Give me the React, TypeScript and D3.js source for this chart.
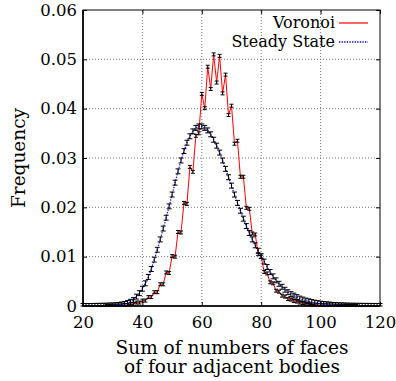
import {useEffect, useRef} from 'react';
import * as d3 from 'd3';

// x = sum of numbers of faces of four adjacent bodies
const voronoiStart = 28;
const voronoiFreq = [
  0, 0, 0.00005, 0.00005, 0.0001, 0.0001, 0.0002, 0.0002, 0.0004, 0.0004,
  0.0007, 0.0007, 0.0011, 0.0011, 0.0018, 0.0018, 0.0028, 0.0028, 0.0044, 0.0044,
  0.0068, 0.0067, 0.0101, 0.01, 0.015, 0.0149, 0.0209, 0.0207, 0.0282, 0.0272,
  0.0345, 0.035, 0.043, 0.0401, 0.0485, 0.044, 0.051, 0.0453, 0.0507, 0.0431,
  0.0469, 0.0387, 0.0406, 0.0329, 0.0335, 0.0262, 0.0262, 0.0199, 0.0197, 0.0147,
  0.0145, 0.0105, 0.01, 0.0069, 0.0066, 0.0048, 0.0046, 0.0031, 0.0029, 0.0021,
  0.0019, 0.0014, 0.0013, 0.001, 0.0009, 0.0007, 0.0006, 0.0005, 0.0004, 0.0003,
  0.0003, 0.0002, 0.0002, 0.00015, 0.00015, 0.0001, 0.0001, 0.00005, 0.00005, 0.00003,
  0.00003, 0.00002, 0.00002, 0, 0,
];
const voronoiErr = 0.0003;

const steadyStart = 20;
const steadyFreq = [
  0, 0, 0, 0, 0.00002, 0.00003, 0.00004, 0.00005, 0.00007, 0.0001,
  0.00012, 0.00016, 0.00022, 0.0003, 0.00042, 0.0006, 0.00085, 0.0012, 0.0019, 0.0026,
  0.0035, 0.0046, 0.0059, 0.0075, 0.0094, 0.0114, 0.0135, 0.0157, 0.0179, 0.0202,
  0.0226, 0.025, 0.0273, 0.0295, 0.0314, 0.0331, 0.0344, 0.0354, 0.0361, 0.0364,
  0.0364, 0.0361, 0.0356, 0.0348, 0.0337, 0.0325, 0.0311, 0.0295, 0.0278, 0.0261,
  0.0244, 0.0226, 0.0209, 0.0193, 0.0177, 0.0162, 0.0148, 0.0135, 0.0123, 0.0112,
  0.0101, 0.009, 0.0079, 0.0069, 0.006, 0.0052, 0.0045, 0.0039, 0.0033, 0.0028,
  0.0024, 0.0021, 0.0018, 0.0015, 0.0013, 0.0011, 0.00095, 0.0008, 0.00068, 0.00057,
  0.00048, 0.0004, 0.00034, 0.00028, 0.00023, 0.00019, 0.00016, 0.00013, 0.00011, 0.00009,
  0.00007, 0.00006, 0.00005, 0.00004, 0.00003, 0.00003, 0.00002, 0.00002, 0.00001, 0.00001,
  0.00001,
];
const steadyErr = 0.0005;

const xTicks = [20, 40, 60, 80, 100, 120];
const yTicks = [0, 0.01, 0.02, 0.03, 0.04, 0.05, 0.06];
const legendLabels = ['Voronoi', 'Steady State'];

const W = 396;
const H = 381;
const margin = {left: 83, right: 16, top: 10, bottom: 75};
const font = 'DejaVu Serif, Liberation Serif, serif';

const App = () => {
  const ref = useRef(null);

  useEffect(() => {
    const svg = d3.select(ref.current);
    svg.selectAll('*').remove();

    const x = d3.scaleLinear().domain([20, 120]).range([margin.left, W - margin.right]);
    const y = d3.scaleLinear().domain([0, 0.06]).range([H - margin.bottom, margin.top]);
    const [x0, x1] = x.range();
    const [y0, y1] = y.range();

    const voronoi = voronoiFreq.map((v, i) => ({x: voronoiStart + i, y: v}));
    const steady = steadyFreq.map((v, i) => ({x: steadyStart + i, y: v}));

    // grid
    const grid = svg.append('g');
    grid
      .selectAll('line.v')
      .data(xTicks.slice(1, -1))
      .enter()
      .append('line')
      .attr('x1', (d) => x(d))
      .attr('x2', (d) => x(d))
      .attr('y1', y0)
      .attr('y2', y1)
      .attr('stroke', '#777')
      .attr('stroke-dasharray', '1,2');
    grid
      .selectAll('line.h')
      .data(yTicks.slice(1, -1))
      .enter()
      .append('line')
      .attr('x1', x0)
      .attr('x2', x1)
      .attr('y1', (d) => y(d))
      .attr('y2', (d) => y(d))
      .attr('stroke', '#777')
      .attr('stroke-dasharray', '1,2');

    // axes (ticks inward, like gnuplot)
    const yFmt = (d) => (d === 0 ? '0' : d3.format('.2f')(d));
    const styleAxis = (g) => {
      g.attr('font-family', null).attr('font-size', null);
      g.select('.domain').remove();
      g.selectAll('line').attr('stroke', '#000');
      g.selectAll('text').style('font-family', font).style('font-size', '16.5px').attr('fill', '#000');
    };
    svg
      .append('g')
      .attr('transform', `translate(0,${y0})`)
      .call(d3.axisBottom(x).tickValues(xTicks).tickSize(-4).tickPadding(10))
      .call(styleAxis);
    svg
      .append('g')
      .attr('transform', `translate(${x0},0)`)
      .call(d3.axisLeft(y).tickValues(yTicks).tickFormat(yFmt).tickSize(-4).tickPadding(6))
      .call(styleAxis);
    svg
      .append('g')
      .attr('transform', `translate(0,${y1})`)
      .call(d3.axisTop(x).tickValues(xTicks).tickFormat(() => '').tickSize(-4))
      .call(styleAxis);
    svg
      .append('g')
      .attr('transform', `translate(${x1},0)`)
      .call(d3.axisRight(y).tickValues(yTicks).tickFormat(() => '').tickSize(-4))
      .call(styleAxis);

    const line = d3
      .line()
      .x((d) => x(d.x))
      .y((d) => y(d.y));

    const drawErrors = (data, err, cap) => {
      const g = svg.append('g').attr('stroke', '#000').attr('stroke-width', 1);
      data.forEach((d) => {
        const lo = y(Math.max(0, d.y - err));
        const hi = y(d.y + err);
        const cx = x(d.x);
        g.append('line').attr('x1', cx).attr('x2', cx).attr('y1', lo).attr('y2', hi);
        g.append('line').attr('x1', cx - cap).attr('x2', cx + cap).attr('y1', lo).attr('y2', lo);
        g.append('line').attr('x1', cx - cap).attr('x2', cx + cap).attr('y1', hi).attr('y2', hi);
      });
    };

    // Voronoi
    svg
      .append('path')
      .datum(voronoi)
      .attr('fill', 'none')
      .attr('stroke', '#ff0000')
      .attr('stroke-width', 1)
      .attr('d', line);
    drawErrors(voronoi, voronoiErr, 2);

    // Steady state
    svg
      .append('path')
      .datum(steady)
      .attr('fill', 'none')
      .attr('stroke', '#0000ff')
      .attr('stroke-width', 1.2)
      .attr('stroke-dasharray', '1.3,1.3')
      .attr('d', line);
    drawErrors(steady, steadyErr, 2.5);

    // frame
    svg
      .append('rect')
      .attr('x', x0)
      .attr('y', y1)
      .attr('width', x1 - x0)
      .attr('height', y0 - y1)
      .attr('fill', 'none')
      .attr('stroke', '#000')
      .attr('stroke-width', 1);
    svg
      .append('path')
      .attr('d', `M${x0},${y1}V${y0}H${x1}`)
      .attr('fill', 'none')
      .attr('stroke', '#000')
      .attr('stroke-width', 1.6);

    // legend
    const legend = svg.append('g').style('font-family', font).style('font-size', '16px');
    legendLabels.forEach((label, i) => {
      const ly = 28 + i * 19;
      legend
        .append('text')
        .attr('x', 335)
        .attr('y', ly)
        .attr('text-anchor', 'end')
        .text(label);
      legend
        .append('line')
        .attr('x1', 339)
        .attr('x2', 368)
        .attr('y1', ly - 5)
        .attr('y2', ly - 5)
        .attr('stroke', i === 0 ? '#ff0000' : '#0000ff')
        .attr('stroke-width', i === 0 ? 1.2 : 1.4)
        .attr('stroke-dasharray', i === 0 ? null : '1.3,1.3');
    });

    // axis titles
    const titles = svg
      .append('g')
      .style('font-family', font)
      .style('font-size', '18.5px')
      .attr('text-anchor', 'middle');
    titles
      .append('text')
      .attr('transform', `translate(25,${(y0 + y1) / 2}) rotate(-90)`)
      .text('Frequency');
    titles.append('text').attr('x', 232).attr('y', 354).text('Sum of numbers of faces');
    titles.append('text').attr('x', 232).attr('y', 373).text('of four adjacent bodies');
  }, []);

  return (
    <svg
      ref={ref}
      width={W}
      height={H}
      style={{position: 'absolute', left: 0, top: 0, background: '#fff'}}
    />
  );
};

export default App;
